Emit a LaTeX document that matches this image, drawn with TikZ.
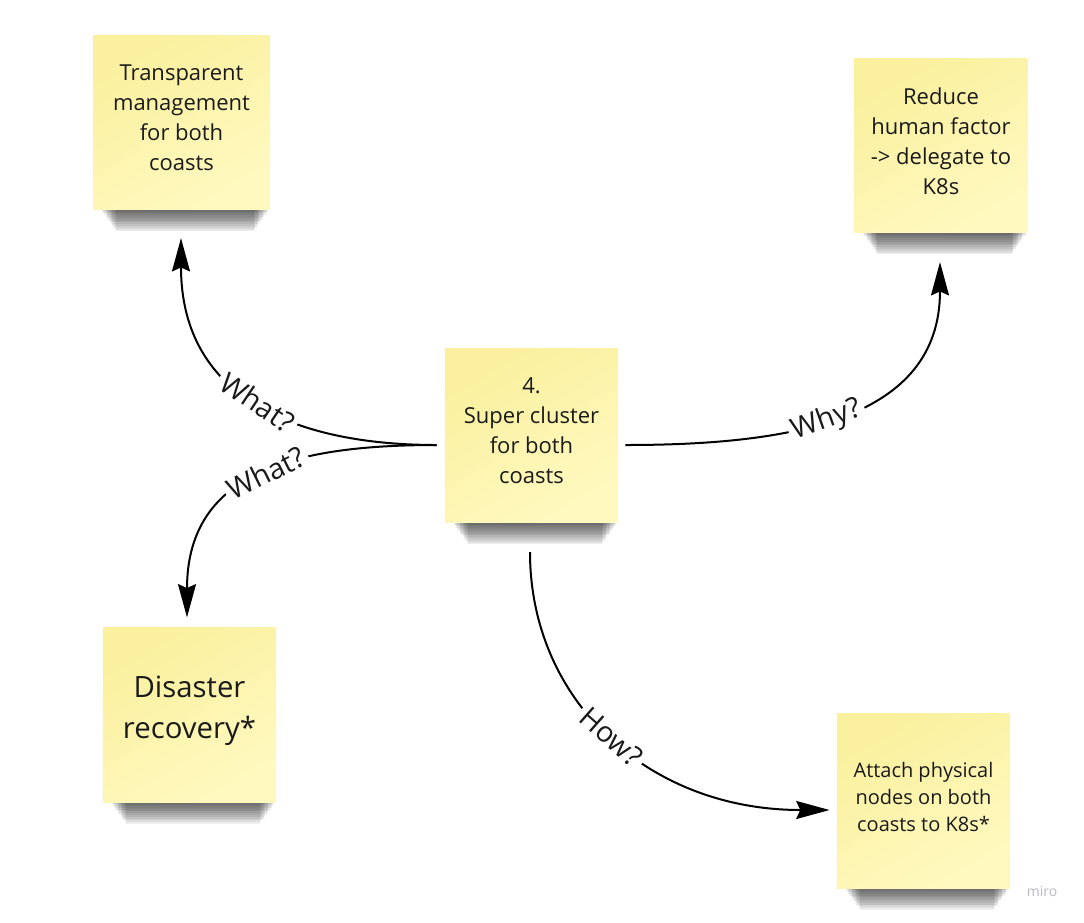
\documentclass[tikz,border=0pt]{standalone}
\usepackage{fontspec}
\setmainfont{Open Sans}
\usetikzlibrary{arrows.meta,calc}
\definecolor{noteA}{RGB}{250,240,158}
\definecolor{noteB}{RGB}{255,249,192}
\definecolor{ink}{RGB}{26,26,26}
\definecolor{logogray}{RGB}{185,185,190}
\newcommand\noteshadow[1]{%
  \foreach \i in {0,...,11} {%
    \fill[black, fill opacity=0.065]
      ($(#1.south west)+(9+\i*1.3,0)$) rectangle ($(#1.south east)+(-2-\i*1.3,1.5+\i*1.8)$);
  }%
}
\begin{document}
\begin{tikzpicture}[x=0.75pt,y=-0.75pt,
  note/.style={minimum width=130pt, minimum height=131pt, inner sep=0pt,
    shading=axis, top color=noteA, bottom color=noteB, shading angle=30},
  notetext/.style={align=center, text=ink, inner sep=0pt, font=\fontsize{16.5}{22.5}\selectfont},
  link/.style={line width=1.5pt, draw=black},
  tip/.style={-{Stealth[length=25pt,width=13.5pt,inset=3pt]}},
  lab/.style={fill=white, inner sep=3pt, text=ink, font=\fontsize{21.5}{26}\selectfont, sloped}
]
\useasboundingbox[fill=white] (0,0) rectangle (1084,922);

% notes
\node[note, minimum width=132.75pt] (n1) at (181.5,122.5) {};
\node[note] (n2) at (941,145.5) {};
\node[note] (n3) at (531.5,435.5) {};
\node[note] (n4) at (189.5,715) {};
\node[note] (n5) at (923.5,801) {};

% shadows under the notes
\noteshadow{n1}
\noteshadow{n2}
\noteshadow{n3}
\noteshadow{n4}
\noteshadow{n5}

% note texts
\node[notetext] (t1) at (181.5,118) {Transparent\\management\\for both\\coasts};
\node[notetext] (t2) at (941,141) {Reduce\\human factor\\-> delegate to\\K8s};
\node[notetext] (t3) at (531.5,431) {4.\\Super cluster\\for both\\coasts};
\node[notetext, font=\fontsize{22}{30.5}\selectfont] (t4) at (189.5,711) {Disaster\\recovery*};
\node[notetext, font=\fontsize{15}{20.25}\selectfont] (t5) at (923.5,797) {Attach physical\\nodes on both\\coasts to K8s*};

% connector ends
\coordinate (s3w) at ($(n3.west)+(-8,9.5)$);
\coordinate (s3e) at ($(n3.east)+(7,9.5)$);
\coordinate (s3s) at ($(n3.south)+(-1.5,29)$);
\coordinate (e1) at ($(n1.south)+(-0.5,28)$);
\coordinate (e2) at ($(n2.south)+(-1,29)$);
\coordinate (e4) at ($(n4.north)+(-2.5,-10)$);
\coordinate (e5) at ($(n5.west)+(-7,9)$);

% connectors
\draw[link,tip] (s3w) .. controls +(-137,0) and +(0,162) .. (e1)
  node[lab,pos=0.5] {What?};
\draw[link,tip] (s3w) .. controls +(-137,0) and +(0,-148) .. (e4)
  node[lab,pos=0.48] {What?};
\draw[link,tip] (s3e) .. controls +(165,0) and +(0,158) .. (e2)
  node[lab,pos=0.45] {Why?};
\draw[link,tip] (s3s) .. controls +(0,148) and +(-182,0) .. (e5)
  node[lab,pos=0.5] {How?};

% watermark
\node[text=logogray, font=\fontsize{10.5}{12}\selectfont] (logo) at (1042,891) {miro};
\end{tikzpicture}
\end{document}
